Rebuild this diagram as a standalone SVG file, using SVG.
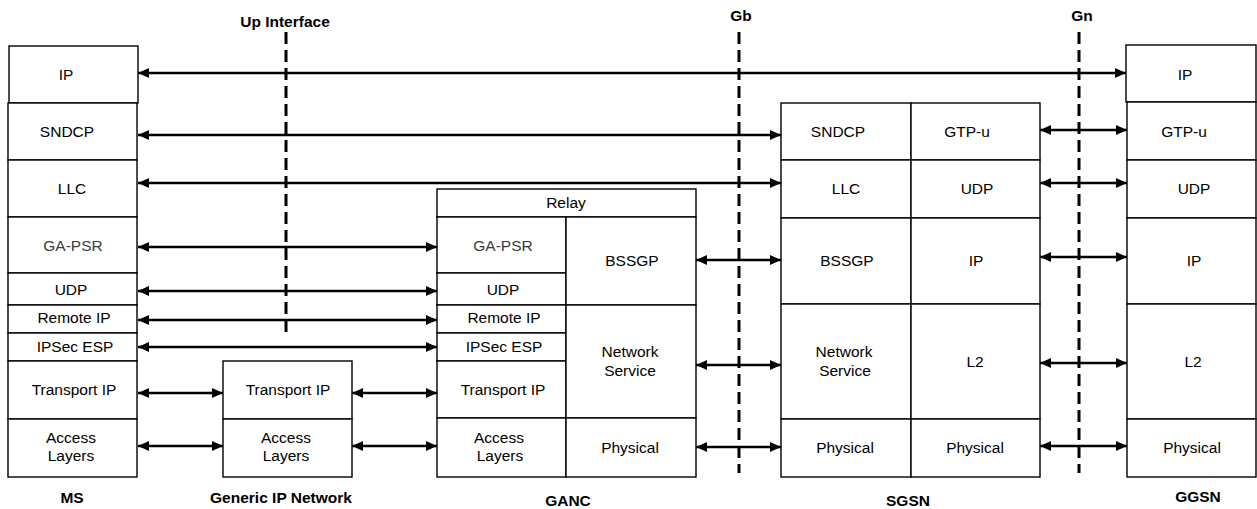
<svg xmlns="http://www.w3.org/2000/svg" width="1257" height="509" viewBox="0 0 1257 509">
<style>
rect, .b { fill: #fff; stroke: #000; stroke-width: 1.4; }
.sep { stroke: #000; stroke-width: 1.4; fill: none; }
text { font-family: "Liberation Sans", Arial, sans-serif; font-size: 15.5px; text-anchor: middle; fill: #000; }
.g { fill: #3a3a3a; }
.lbl { font-weight: bold; font-size: 15.5px; }
.dash { stroke: #000; stroke-width: 3; stroke-dasharray: 12 6; fill: none; }
.arr { stroke: #000; stroke-width: 2.6; fill: none; marker-start: url(#ah); marker-end: url(#ah); }
</style>
<defs>
<marker id="ah" markerUnits="userSpaceOnUse" markerWidth="12" markerHeight="11" refX="11" refY="5.5" orient="auto-start-reverse">
<path d="M0,0.5 L11,5.5 L0,10.5 z" fill="#000"/>
</marker>
</defs>
<rect x="0" y="0" width="1257" height="509" style="fill:#fff;stroke:none"/>

<g id="interfaces">
<line class="dash" x1="286" y1="32" x2="286" y2="337"/>
<text class="lbl" x="285" y="27">Up Interface</text>
<line class="dash" x1="739" y1="32" x2="739" y2="473"/>
<text class="lbl" x="741" y="21">Gb</text>
<line class="dash" x1="1079" y1="32" x2="1079" y2="473"/>
<text class="lbl" x="1082" y="21">Gn</text>
</g>

<g id="connectors">
<line class="arr" x1="138" y1="73" x2="1126" y2="73"/>
<line class="arr" x1="138" y1="135" x2="781" y2="135"/>
<line class="arr" x1="138" y1="183" x2="781" y2="183"/>
<line class="arr" x1="138" y1="247" x2="437" y2="247"/>
<line class="arr" x1="138" y1="291" x2="437" y2="291"/>
<line class="arr" x1="138" y1="320" x2="437" y2="320"/>
<line class="arr" x1="138" y1="347" x2="437" y2="347"/>
<line class="arr" x1="138" y1="393" x2="223" y2="393"/>
<line class="arr" x1="352" y1="393" x2="437" y2="393"/>
<line class="arr" x1="138" y1="446" x2="223" y2="446"/>
<line class="arr" x1="352" y1="446" x2="437" y2="446"/>
<line class="arr" x1="696" y1="260" x2="781" y2="260"/>
<line class="arr" x1="696" y1="365" x2="781" y2="365"/>
<line class="arr" x1="696" y1="447" x2="781" y2="447"/>
<line class="arr" x1="1040" y1="130" x2="1127" y2="130"/>
<line class="arr" x1="1040" y1="183" x2="1127" y2="183"/>
<line class="arr" x1="1040" y1="257" x2="1127" y2="257"/>
<line class="arr" x1="1040" y1="363" x2="1127" y2="363"/>
<line class="arr" x1="1040" y1="446" x2="1127" y2="446"/>
</g>

<g id="MS">
<rect x="9" y="46" width="129" height="57"/>
<rect x="8" y="103" width="129" height="57"/>
<rect x="8" y="160" width="129" height="57"/>
<rect x="8" y="217" width="129" height="56"/>
<rect x="8" y="273" width="129" height="32"/>
<rect x="8" y="305" width="129" height="28"/>
<rect x="8" y="333" width="129" height="28"/>
<rect x="8" y="361" width="129" height="58"/>
<rect x="8" y="419" width="129" height="58"/>
<text x="66" y="80">IP</text>
<text x="67" y="137">SNDCP</text>
<text x="72" y="194">LLC</text>
<text class="g" x="73" y="251">GA-PSR</text>
<text x="71" y="295">UDP</text>
<text x="74" y="323">Remote IP</text>
<text x="75" y="352">IPSec ESP</text>
<text x="74" y="395">Transport IP</text>
<text x="71" y="443">Access</text>
<text x="71" y="461">Layers</text>
<text class="lbl" x="72" y="503">MS</text>
</g>

<g id="GIN">
<rect x="223" y="361" width="129" height="58"/>
<rect x="223" y="419" width="129" height="58"/>
<text x="288" y="395">Transport IP</text>
<text x="286" y="443">Access</text>
<text x="286" y="461">Layers</text>
<text class="lbl" x="281" y="503">Generic IP Network</text>
</g>

<g id="GANC">
<rect x="437" y="189" width="259" height="28"/>
<rect x="437" y="217" width="129" height="56"/>
<rect x="437" y="273" width="129" height="32"/>
<rect x="437" y="305" width="129" height="28"/>
<rect x="437" y="333" width="129" height="28"/>
<rect x="437" y="361" width="129" height="57"/>
<rect x="437" y="418" width="129" height="59"/>
<rect x="566" y="217" width="130" height="88"/>
<rect x="566" y="305" width="130" height="113"/>
<rect x="566" y="418" width="130" height="59"/>
<text x="566" y="208">Relay</text>
<text class="g" x="503" y="251">GA-PSR</text>
<text x="503" y="295">UDP</text>
<text x="504" y="323">Remote IP</text>
<text x="504" y="352">IPSec ESP</text>
<text x="503" y="395">Transport IP</text>
<text x="499" y="443">Access</text>
<text x="500" y="461">Layers</text>
<text x="632" y="266">BSSGP</text>
<text x="630" y="357">Network</text>
<text x="630" y="376">Service</text>
<text x="630" y="453">Physical</text>
<text class="lbl" x="568" y="506">GANC</text>
</g>

<g id="SGSN">
<rect x="781" y="103" width="130" height="57"/>
<rect x="781" y="160" width="130" height="58"/>
<rect x="781" y="218" width="130" height="86"/>
<rect x="781" y="304" width="130" height="115"/>
<rect x="781" y="419" width="130" height="58"/>
<rect x="911" y="103" width="129" height="57"/>
<rect x="911" y="160" width="129" height="58"/>
<rect x="911" y="218" width="129" height="86"/>
<rect x="911" y="304" width="129" height="115"/>
<rect x="911" y="419" width="129" height="58"/>
<text x="838" y="137">SNDCP</text>
<text x="967" y="137">GTP-u</text>
<text x="846" y="194">LLC</text>
<text x="977" y="194">UDP</text>
<text x="847" y="266">BSSGP</text>
<text x="976" y="266">IP</text>
<text x="844" y="357">Network</text>
<text x="845" y="376">Service</text>
<text x="975" y="367">L2</text>
<text x="845" y="453">Physical</text>
<text x="975" y="453">Physical</text>
<text class="lbl" x="908" y="506">SGSN</text>
</g>

<g id="GGSN">
<rect x="1126" y="45" width="130" height="57"/>
<rect x="1127" y="102" width="129" height="58"/>
<rect x="1127" y="160" width="129" height="58"/>
<rect x="1127" y="218" width="129" height="86"/>
<rect x="1127" y="304" width="129" height="115"/>
<rect x="1127" y="419" width="129" height="58"/>
<text x="1185" y="80">IP</text>
<text x="1184" y="137">GTP-u</text>
<text x="1194" y="194">UDP</text>
<text x="1194" y="266">IP</text>
<text x="1193" y="367">L2</text>
<text x="1192" y="453">Physical</text>
<text class="lbl" x="1198" y="502">GGSN</text>
</g>
</svg>
